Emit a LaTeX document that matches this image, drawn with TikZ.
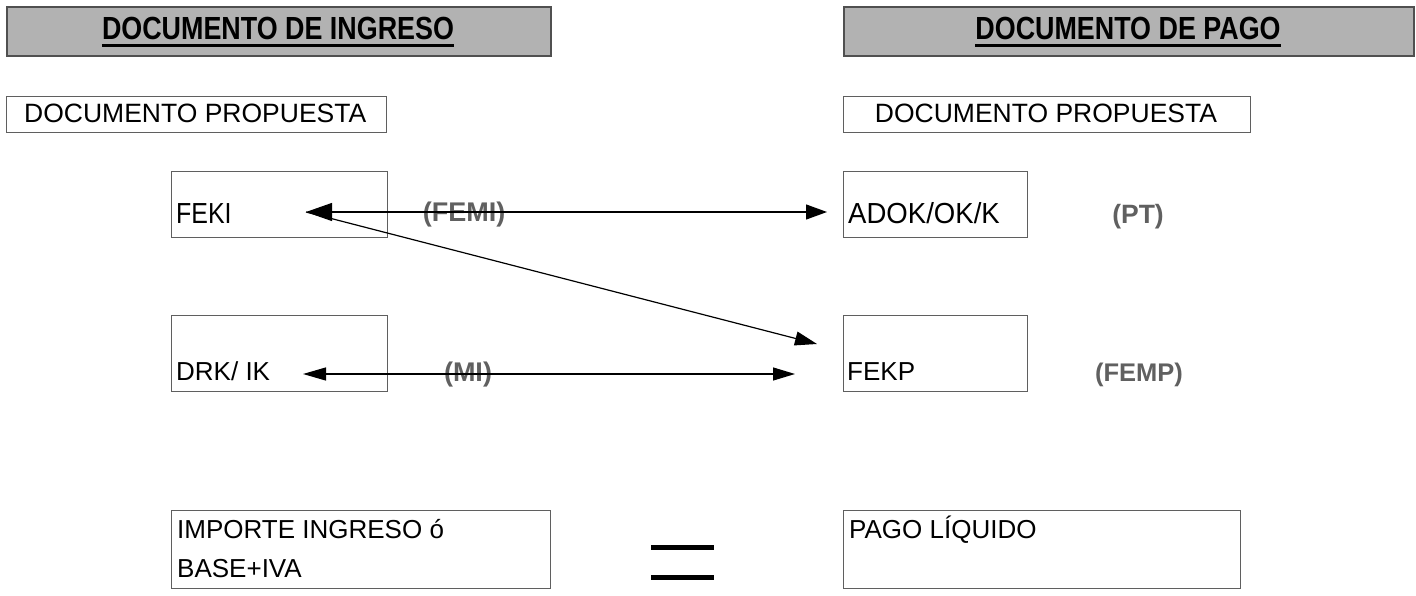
\documentclass[tikz,border=0pt]{standalone}
\usepackage{fontspec}
\setmainfont{Liberation Sans}
\newfontfamily\titlefont[FakeStretch=0.84]{Liberation Sans}
\newfontfamily\condfont[FakeStretch=0.86]{Liberation Sans}
\newfontfamily\semicondfont[FakeStretch=0.95]{Liberation Sans}
\usetikzlibrary{arrows.meta}
\definecolor{hdrfill}{RGB}{178,178,178}
\definecolor{hdrline}{RGB}{80,80,80}
\definecolor{boxline}{RGB}{95,95,95}
\definecolor{tagcol}{RGB}{96,96,96}
\begin{document}
\begin{tikzpicture}[x=1pt,y=-1pt,
  hdr/.style={draw=hdrline, fill=hdrfill, line width=1.8pt, inner sep=0pt, anchor=north west},
  box/.style={draw=boxline, line width=1.2pt, inner sep=0pt, anchor=north west},
  hdrtxt/.style={inner sep=0pt, anchor=base, font=\titlefont\bfseries\fontsize{32}{38}\selectfont},
  lbl/.style={inner sep=0pt, anchor=base west, font=\fontsize{26}{31}\selectfont},
  tag/.style={inner sep=0pt, anchor=base, text=tagcol, font=\bfseries\fontsize{27}{32}\selectfont},
  link/.style={line width=1.2pt, draw=black}]
\useasboundingbox (0,0) rectangle (1416,596);

% column headers
\node[hdr, minimum width=544pt, minimum height=49pt] (hdrL) at (6,6) {};
\node[hdr, minimum width=570pt, minimum height=49pt] (hdrR) at (843,6) {};
\node[hdrtxt] (titleL) at (278,40) {DOCUMENTO DE INGRESO};
\node[hdrtxt] (titleR) at (1128,40) {DOCUMENTO DE PAGO};
\draw[line width=2.6pt] ([yshift=-5.5pt]titleL.base west) -- ([yshift=-5.5pt]titleL.base east);
\draw[line width=2.6pt] ([yshift=-5.5pt]titleR.base west) -- ([yshift=-5.5pt]titleR.base east);

% proposal document boxes
\node[box, minimum width=380pt, minimum height=36pt] (propL) at (6,96) {};
\node[box, minimum width=407pt, minimum height=36pt] (propR) at (843,96) {};
\node[lbl, font=\fontsize{26.5}{31}\selectfont] (propLtxt) at (24,123) {DOCUMENTO PROPUESTA};
\node[lbl, font=\fontsize{26.5}{31}\selectfont, anchor=base] (propRtxt) at (1046,123) {DOCUMENTO PROPUESTA};

% income side
\node[box, minimum width=216pt, minimum height=66pt] (feki) at (171,171) {};
\node[lbl, font=\condfont\fontsize{29}{34}\selectfont] (fekitxt) at (176,223) {FEKI};
\node[box, minimum width=216pt, minimum height=76pt] (drk) at (171,315) {};
\node[lbl] (drktxt) at (176,380) {DRK/ IK};

% payment side
\node[box, minimum width=184pt, minimum height=66pt] (adok) at (843,171) {};
\node[lbl, font=\semicondfont\fontsize{29}{34}\selectfont] (adoktxt) at (848,223) {ADOK/OK/K};
\node[box, minimum width=184pt, minimum height=76pt] (fekp) at (843,315) {};
\node[lbl] (fekptxt) at (847,380) {FEKP};

% operation codes
\node[tag] (femi) at (464,222) {(FEMI)};
\node[tag] (mi) at (468,381) {(MI)};
\node[tag, font=\bfseries\fontsize{26.5}{32}\selectfont] (pt) at (1138,223) {(PT)};
\node[tag, font=\bfseries\fontsize{25.5}{32}\selectfont] (femp) at (1139,381) {(FEMP)};

% arrow end points
\coordinate (fekiTip) at (306,212);
\coordinate (adokTip) at (827,212);
\coordinate (fekpTip) at (817,344);
\coordinate (drkTip) at (303,374);
\coordinate (midTip) at (795,374);

\draw[link, {Triangle[length=26pt,width=18pt]}-{Triangle[length=21pt,width=15pt]}] (fekiTip) -- (adokTip);
\draw[link, -{Triangle[length=22pt,width=14pt]}] (fekiTip) -- (fekpTip);
\draw[link, {Triangle[length=23pt,width=13pt]}-{Triangle[length=22pt,width=13pt]}] (drkTip) -- (midTip);

% totals
\node[box, minimum width=379pt, minimum height=78pt] (imp) at (171,510) {};
\node[lbl] (imptxt1) at (177,538) {IMPORTE INGRESO ó};
\node[lbl] (imptxt2) at (177,577) {BASE+IVA};
\node[box, minimum width=397pt, minimum height=78pt] (pago) at (843,510) {};
\node[lbl] (pagotxt) at (849,538) {PAGO LÍQUIDO};

% equals sign
\coordinate (eqA) at (651,547);
\coordinate (eqB) at (714,547);
\coordinate (eqC) at (651,577);
\coordinate (eqD) at (714,577);
\draw[line width=5pt] (eqA) -- (eqB);
\draw[line width=5pt] (eqC) -- (eqD);
\end{tikzpicture}
\end{document}
